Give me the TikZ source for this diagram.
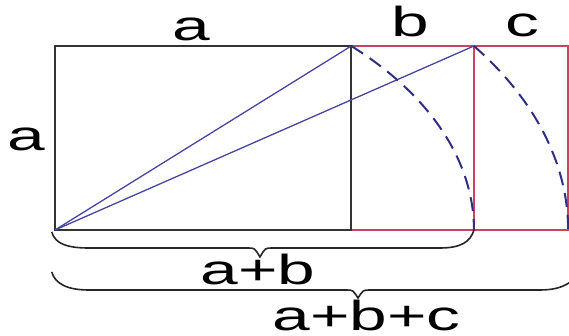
\documentclass[tikz,border=0pt]{standalone}
\usepackage{fontspec}
\setmainfont{Liberation Sans}
\usepackage{xcolor}
\definecolor{sidered}{HTML}{C94462}
\definecolor{diagblue}{HTML}{4646A0}
\definecolor{swingblue}{HTML}{2F2F82}

\begin{document}
\begin{tikzpicture}[
  x=1.61pt,y=1pt,
  side/.style={line width=2pt,black!80},
  redside/.style={line width=1.6pt,sidered},
  diag/.style={line width=1.3pt,diagblue},
  swing/.style={line width=2pt,swingblue,dash pattern=on 14pt off 8pt},
  brace/.style={line width=1.6pt,black!85},
  lbl/.style={font=\fontsize{42}{42}\selectfont,xscale=1.61,inner sep=0pt,anchor=base}
]
\clip (-55pt,-106pt) rectangle (514pt,230pt);
\coordinate (O) at (0,0);
\coordinate (Z) at (0,184);
\coordinate (P) at (184,0);
\coordinate (Q) at (184,184);
\coordinate (R) at ({184*sqrt(2)},0);
\coordinate (S) at ({184*sqrt(2)},184);
\coordinate (T) at ({184*sqrt(3)},0);
\coordinate (U) at ({184*sqrt(3)},184);
% rectangles
\draw[redside] (Q) -- (U) -- (T) -- (P);
\draw[redside] (R) -- (S);
\draw[side] (O) -- (Z) -- (Q) -- (P) -- cycle;
% diagonals and swung arcs
\draw[diag] (O) -- (Q);
\draw[diag] (O) -- (S);
\draw[swing] (Q) arc[start angle=45,end angle=0,radius={184*sqrt(2)}];
\draw[swing] (S) arc[start angle={atan(1/sqrt(2))},end angle=0,radius={184*sqrt(3)}];
% braces
\draw[brace] (-2,-2) .. controls (0,-14) and (8,-18) .. (21,-18) -- (120,-18)
  .. controls (124,-18) .. (127.3,-27) .. controls (130.6,-18) .. (134.6,-18) -- (239,-18)
  .. controls (252,-18) and (258,-12) .. (R);
\draw[brace] (-2,-42) .. controls (0,-54) and (8,-60) .. (21,-60) -- (181,-60)
  .. controls (185,-60) .. (188.2,-68) .. controls (191.4,-60) .. (195.4,-60) -- (301,-60)
  .. controls (316,-60) and (324,-52) .. (330,-30);
% labels
\node[lbl] (topa) at (84.5,189) {a};
\node[lbl] (topb) at (220.5,193) {b};
\node[lbl] (topc) at (290,193) {c};
\node[lbl] (lefta) at (-18,79) {a};
\node[lbl] (sumab) at (126,-55) {a+b};
\node[lbl] (sumabc) at (193.5,-101) {a+b+c};
\end{tikzpicture}
\end{document}
